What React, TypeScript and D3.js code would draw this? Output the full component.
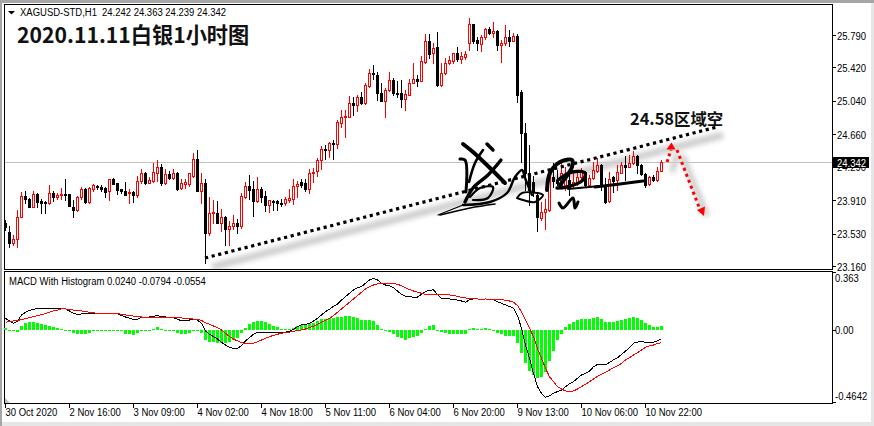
import * as d3 from 'd3';
import React from 'react';

const opens = [
  23.654, 23.547, 23.426, 23.464, 23.714, 23.957, 23.919, 23.836, 23.980, 23.897, 23.889, 23.874, 23.988, 23.950, 23.965, 23.980,
  23.980, 23.836, 23.798, 23.942, 24.041, 23.889, 24.033, 24.071, 24.064, 24.048, 24.011, 24.155, 24.102, 24.033, 24.018, 23.988,
  24.003, 23.973, 24.132, 24.223, 24.109, 24.132, 24.215, 24.284, 24.102, 24.208, 24.162, 24.223, 24.048, 24.094, 24.094, 24.185,
  24.375, 24.018, 24.102, 23.540, 23.760, 23.768, 23.646, 23.722, 23.585, 23.616, 23.646, 23.616, 23.942, 24.071, 24.033, 23.904,
  24.041, 23.957, 23.859, 23.904, 23.900, 23.882, 23.882, 23.912, 23.927, 24.071, 24.117, 24.102, 24.041, 24.215, 24.238, 24.367,
  24.496, 24.481, 24.565, 24.549, 24.792, 24.853, 24.861, 25.012, 24.997, 25.088, 25.020, 25.210, 25.362, 25.331, 25.134, 25.043,
  25.164, 25.278, 25.134, 25.126, 25.066, 25.111, 25.248, 25.286, 25.271, 25.483, 25.718, 25.582, 25.650, 25.217, 25.354, 25.468,
  25.498, 25.582, 25.521, 25.544, 25.703, 25.916, 25.733, 25.688, 25.772, 25.855, 25.817, 25.832, 25.680, 25.696, 25.764, 25.726,
  25.779, 25.141, 24.671, 24.215, 24.117, 23.973, 23.707, 23.771, 23.798, 24.170, 24.140, 24.063, 24.063, 24.139, 24.082, 24.101,
  24.170, 24.234, 24.082, 24.158, 24.246, 24.310, 24.071, 23.900, 24.170, 24.139, 24.223, 24.310, 24.291, 24.329, 24.413, 24.310,
  24.208, 24.094, 24.170, 24.139, 24.242,
];
const highs = [
  23.684, 23.616, 23.513, 23.798, 24.003, 24.011, 23.931, 24.011, 23.990, 23.919, 23.895, 24.079, 24.018, 23.995, 24.048, 24.147,
  23.985, 23.912, 23.957, 24.064, 24.048, 24.064, 24.094, 24.079, 24.079, 24.056, 24.150, 24.162, 24.105, 24.041, 24.117, 24.041,
  24.011, 24.185, 24.269, 24.231, 24.177, 24.329, 24.367, 24.322, 24.261, 24.238, 24.261, 24.231, 24.147, 24.155, 24.223, 24.451,
  24.481, 24.215, 24.147, 23.950, 23.912, 23.904, 23.813, 23.730, 23.669, 23.745, 23.692, 23.988, 24.117, 24.200, 24.125, 24.170,
  24.056, 24.011, 23.915, 23.912, 23.912, 23.927, 23.942, 24.041, 24.155, 24.125, 24.155, 24.147, 24.269, 24.276, 24.390, 24.527,
  24.534, 24.572, 24.595, 24.823, 24.937, 24.937, 25.096, 25.088, 25.111, 25.141, 25.240, 25.400, 25.445, 25.369, 25.240, 25.187,
  25.369, 25.301, 25.263, 25.278, 25.164, 25.286, 25.468, 25.331, 25.551, 25.802, 25.802, 25.696, 25.825, 25.468, 25.529, 25.551,
  25.589, 25.650, 25.597, 25.605, 25.984, 25.920, 25.772, 25.794, 25.870, 25.878, 25.938, 25.847, 25.733, 25.900, 25.847, 25.810,
  25.802, 25.164, 24.785, 24.538, 24.180, 24.000, 23.889, 23.927, 24.185, 24.329, 24.253, 24.329, 24.290, 24.215, 24.215, 24.215,
  24.272, 24.246, 24.196, 24.348, 24.394, 24.322, 24.158, 24.234, 24.185, 24.310, 24.348, 24.413, 24.424, 24.470, 24.424, 24.322,
  24.215, 24.185, 24.196, 24.291, 24.363,
];
const lows = [
  23.570, 23.373, 23.399, 23.373, 23.714, 23.874, 23.828, 23.828, 23.828, 23.760, 23.760, 23.866, 23.904, 23.919, 23.927, 23.912,
  23.840, 23.722, 23.790, 23.927, 23.882, 23.882, 24.018, 24.033, 24.018, 23.950, 23.912, 24.090, 23.980, 23.988, 23.965, 23.882,
  23.889, 23.950, 24.102, 24.094, 24.102, 24.117, 24.132, 24.079, 24.094, 24.147, 24.155, 24.026, 24.033, 24.048, 24.071, 24.177,
  24.015, 23.882, 23.198, 23.510, 23.646, 23.646, 23.555, 23.396, 23.403, 23.578, 23.540, 23.593, 23.935, 23.919, 23.730, 23.889,
  23.889, 23.790, 23.775, 23.798, 23.798, 23.844, 23.859, 23.889, 23.866, 23.950, 24.056, 24.018, 23.995, 24.117, 24.185, 24.269,
  24.382, 24.405, 24.382, 24.504, 24.739, 24.633, 24.855, 24.876, 24.929, 25.000, 25.005, 25.202, 25.293, 25.050, 25.035, 24.861,
  25.157, 25.111, 25.081, 24.975, 24.937, 25.104, 25.240, 25.210, 25.263, 25.468, 25.529, 25.468, 25.210, 25.210, 25.346, 25.460,
  25.475, 25.498, 25.475, 25.521, 25.620, 25.703, 25.620, 25.612, 25.741, 25.802, 25.764, 25.620, 25.483, 25.673, 25.665, 25.718,
  25.028, 24.344, 24.026, 23.855, 23.960, 23.555, 23.684, 23.578, 23.790, 24.063, 24.082, 24.044, 24.030, 23.968, 24.063, 24.082,
  24.139, 24.063, 24.063, 24.147, 24.234, 24.025, 23.881, 23.893, 24.006, 24.025, 24.215, 24.139, 24.283, 24.321, 24.215, 24.192,
  24.063, 24.086, 24.132, 24.124, 24.239,
];
const closes = [
  23.600, 23.426, 23.464, 23.714, 23.957, 23.919, 23.836, 23.980, 23.889, 23.882, 23.874, 23.988, 23.950, 23.965, 23.980, 23.965,
  23.844, 23.798, 23.942, 24.033, 23.889, 24.048, 24.079, 24.056, 24.041, 24.003, 24.147, 24.094, 24.026, 24.011, 23.973, 24.003,
  23.973, 24.132, 24.215, 24.102, 24.140, 24.231, 24.284, 24.102, 24.208, 24.162, 24.215, 24.041, 24.102, 24.117, 24.215, 24.375,
  24.018, 24.102, 23.540, 23.760, 23.775, 23.654, 23.714, 23.578, 23.616, 23.646, 23.616, 23.957, 24.071, 24.026, 23.904, 24.033,
  23.950, 23.851, 23.912, 23.897, 23.874, 23.874, 23.919, 23.934, 24.071, 24.094, 24.086, 24.033, 24.215, 24.231, 24.367, 24.489,
  24.489, 24.557, 24.549, 24.800, 24.853, 24.868, 25.012, 24.990, 25.088, 25.012, 25.217, 25.354, 25.346, 25.134, 25.043, 25.164,
  25.278, 25.126, 25.119, 25.066, 25.119, 25.240, 25.286, 25.271, 25.491, 25.718, 25.574, 25.639, 25.217, 25.354, 25.468, 25.506,
  25.582, 25.521, 25.551, 25.570, 25.916, 25.726, 25.696, 25.772, 25.855, 25.817, 25.832, 25.673, 25.696, 25.764, 25.726, 25.779,
  25.111, 24.671, 24.215, 24.026, 24.003, 23.722, 23.775, 23.806, 24.170, 24.132, 24.101, 24.215, 24.196, 24.063, 24.120, 24.170,
  24.234, 24.082, 24.158, 24.253, 24.310, 24.082, 23.893, 24.147, 24.132, 24.227, 24.310, 24.291, 24.337, 24.413, 24.310, 24.208,
  24.082, 24.170, 24.139, 24.238, 24.342,
];

const histValues = [
  0.0105, 0, -0.0063, -0.0105, 0.0274, 0.0421, 0.0484, 0.0484, 0.0442, 0.0358, 0.0316, 0.0253, 0.0211, 0.0126, 0.0063, 0.0021,
  -0.0042, -0.0211, -0.0253, -0.0232, -0.0232, -0.0189, -0.0042, 0, 0, -0.0021, 0.0021, 0, -0.0042, -0.0084, -0.0253, -0.0274,
  -0.0316, -0.0189, -0.0021, 0, 0, 0.0042, 0.0189, 0.0063, 0, -0.0021, -0.0042, -0.0168, -0.0253, -0.0253, -0.0189, -0.0042,
  -0.0042, -0.0168, -0.0653, -0.0758, -0.0779, -0.08, -0.08, -0.0821, -0.0779, -0.0653, -0.0484, -0.0168, 0.0147, 0.0358, 0.0484, 0.0568,
  0.0568, 0.0484, 0.0358, 0.0253, 0.0189, 0.0084, 0.0063, 0.0063, 0.0105, 0.0274, 0.0316, 0.0358, 0.0442, 0.0463, 0.0568, 0.0695,
  0.0695, 0.0737, 0.0779, 0.08, 0.0842, 0.0863, 0.0884, 0.0842, 0.0779, 0.0653, 0.0632, 0.0632, 0.0589, 0.0316, 0.0042, -0.0063,
  -0.0147, -0.0274, -0.0421, -0.0526, -0.0611, -0.0526, -0.0442, -0.0379, -0.0211, 0.0063, 0.0232, 0.0316, 0, -0.0105, -0.0211, -0.0274,
  -0.0253, -0.0253, -0.0274, -0.0274, 0.0042, 0.0105, 0.0042, 0.0042, 0.0105, 0.0042, 0, -0.0211, -0.0274, -0.0358, -0.0358, -0.0379,
  -0.08, -0.1432, -0.2063, -0.2568, -0.2842, -0.3011, -0.2947, -0.2632, -0.1958, -0.1326, -0.0632, -0.0274, 0.0189, 0.0379, 0.0526, 0.0632,
  0.0695, 0.0695, 0.0695, 0.0737, 0.08, 0.0695, 0.0484, 0.0526, 0.0526, 0.0568, 0.0632, 0.0695, 0.0779, 0.0821, 0.0779, 0.0632,
  0.0421, 0.0316, 0.0211, 0.0211, 0.024,
];
const macdValues = [
  0.074, 0.057, 0.042, 0.057, 0.095, 0.112, 0.124, 0.131, 0.135, 0.135, 0.135, 0.137, 0.137, 0.137, 0.137, 0.133,
  0.120, 0.105, 0.099, 0.101, 0.101, 0.103, 0.107, 0.105, 0.105, 0.103, 0.105, 0.105, 0.103, 0.091, 0.082, 0.074,
  0.067, 0.069, 0.080, 0.082, 0.082, 0.086, 0.091, 0.084, 0.082, 0.080, 0.078, 0.067, 0.059, 0.057, 0.063, 0.067,
  0.063, 0.042, -0.006, -0.027, -0.042, -0.057, -0.078, -0.095, -0.109, -0.116, -0.116, -0.099, -0.069, -0.048, -0.027, -0.015,
  -0.013, -0.013, -0.013, -0.013, -0.015, -0.015, -0.013, -0.008, 0.004, 0.021, 0.032, 0.036, 0.042, 0.057, 0.074, 0.095,
  0.116, 0.131, 0.149, 0.164, 0.189, 0.211, 0.232, 0.253, 0.267, 0.274, 0.295, 0.316, 0.326, 0.316, 0.295, 0.284,
  0.280, 0.267, 0.246, 0.225, 0.213, 0.211, 0.206, 0.208, 0.225, 0.242, 0.251, 0.253, 0.225, 0.200, 0.198, 0.196,
  0.194, 0.189, 0.183, 0.175, 0.192, 0.196, 0.196, 0.194, 0.196, 0.194, 0.192, 0.179, 0.168, 0.158, 0.149, 0.137,
  0.091, 0.011, -0.095, -0.179, -0.274, -0.358, -0.400, -0.425, -0.415, -0.400, -0.389, -0.379, -0.358, -0.339, -0.326, -0.305,
  -0.284, -0.274, -0.259, -0.232, -0.217, -0.217, -0.221, -0.204, -0.189, -0.175, -0.154, -0.133, -0.112, -0.084, -0.076, -0.072,
  -0.078, -0.078, -0.078, -0.069, -0.0554,
];
const signalValues = [
  0.048, 0.053, 0.057, 0.061, 0.065, 0.072, 0.078, 0.084, 0.091, 0.097, 0.103, 0.112, 0.120, 0.126, 0.133, 0.133,
  0.128, 0.126, 0.124, 0.120, 0.116, 0.112, 0.109, 0.105, 0.105, 0.103, 0.103, 0.103, 0.103, 0.099, 0.095, 0.091,
  0.088, 0.084, 0.082, 0.082, 0.082, 0.082, 0.082, 0.082, 0.082, 0.080, 0.080, 0.078, 0.076, 0.074, 0.072, 0.069,
  0.067, 0.061, 0.046, 0.036, 0.025, 0.015, 0, -0.021, -0.042, -0.057, -0.069, -0.080, -0.088, -0.088, -0.084, -0.074,
  -0.063, -0.053, -0.042, -0.034, -0.027, -0.021, -0.017, -0.013, -0.008, -0.004, 0, 0.006, 0.015, 0.023, 0.036, 0.048,
  0.061, 0.074, 0.091, 0.112, 0.133, 0.154, 0.175, 0.196, 0.217, 0.238, 0.259, 0.274, 0.284, 0.291, 0.295, 0.295,
  0.295, 0.293, 0.288, 0.280, 0.267, 0.255, 0.246, 0.238, 0.232, 0.225, 0.225, 0.225, 0.223, 0.221, 0.221, 0.221,
  0.219, 0.213, 0.206, 0.202, 0.200, 0.196, 0.196, 0.194, 0.196, 0.194, 0.194, 0.194, 0.192, 0.187, 0.183, 0.175,
  0.154, 0.116, 0.063, 0.011, -0.042, -0.116, -0.179, -0.242, -0.295, -0.326, -0.358, -0.373, -0.385, -0.389, -0.385, -0.373,
  -0.358, -0.343, -0.326, -0.309, -0.293, -0.280, -0.267, -0.253, -0.238, -0.227, -0.211, -0.189, -0.175, -0.158, -0.143, -0.126,
  -0.109, -0.101, -0.095, -0.086, -0.0794,
];

const priceTicks = [25.79, 25.42, 25.04, 24.66, 24.29, 23.91, 23.53, 23.16];
const timeTickIndex = [0, 16, 32, 48, 64, 80, 96, 112, 128, 144, 160];
const timeTickLabels = [
  '30 Oct 2020', '2 Nov 16:00', '3 Nov 09:00', '4 Nov 02:00', '4 Nov 18:00', '5 Nov 11:00',
  '6 Nov 04:00', '6 Nov 20:00', '9 Nov 13:00', '10 Nov 06:00', '10 Nov 22:00',
];
const lastPrice = 24.342;

// hand drawn signature on top of the candles, in screen pixels
const signature: { w: number; pts: [number, number][] }[] = [
  { w: 4, pts: [[463, 144], [473, 152], [490, 168], [505, 183]] },
  { w: 3.5, pts: [[487, 144], [493, 150]] },
  { w: 3, pts: [[460, 159], [465, 160], [466, 192]] },
  { w: 2.6, pts: [[483, 150], [475, 163], [469, 182]] },
  { w: 3.4, pts: [[501, 160], [488, 175], [473, 188], [465, 202]] },
  { w: 2.2, pts: [[470, 197], [480, 188], [493, 187], [488, 198], [473, 200]] },
  { w: 2.4, pts: [[463, 205], [490, 202], [507, 193], [515, 177], [522, 170], [525, 178], [532, 195]] },
  { w: 1.2, pts: [[438, 215], [463, 205]] },
  { w: 1.6, pts: [[440, 215], [470, 208], [495, 204]] },
  { w: 2, pts: [[517, 198], [522, 193], [537, 193], [543, 195], [535, 202], [523, 200], [517, 198]] },
  { w: 4, pts: [[547, 190], [550, 173], [560, 162], [572, 160], [572, 167], [560, 185]] },
  { w: 3.4, pts: [[558, 180], [572, 172], [585, 173], [583, 180], [567, 187], [557, 188]] },
  { w: 2, pts: [[568, 189], [600, 186]] },
  { w: 3, pts: [[595, 187], [620, 184], [643, 181]] },
  { w: 3, pts: [[559, 203], [563, 208], [573, 198], [575, 208], [578, 202]] },
];

const uiFont = '"Liberation Sans", Arial, sans-serif';
const cjkFont = '"Noto Sans CJK SC", sans-serif';

// the terminal font is tall and narrow, so squeeze 11px text sideways
const UiText = ({ x, y, fill = '#000', children }: { x: number; y: number; fill?: string; children: React.ReactNode }) => (
  <text transform={`translate(${x},${y}) scale(0.864,1)`} fontSize={11} fill={fill}>{children}</text>
);

export default function App() {
  const x = d3.scaleLinear().domain([0, 164]).range([5.5, 661.5]);
  const y = d3.scaleLinear().domain([23.16, 25.79]).range([266, 35]);
  const yM = d3.scaleLinear().domain([-0.4642, 0.363]).range([403.5, 272.5]);

  const macdLine = d3.line<number>().x((_, i) => x(i)).y(d => yM(d));
  const stroke = d3.line<[number, number]>().curve(d3.curveCatmullRom.alpha(0.5));

  const black = '#000000';
  const red = '#ff0000';

  return (
    <svg width={874} height={426} style={{ position: 'absolute', left: 0, top: 0 }} fontFamily={uiFont}>
      <defs>
        <filter id="soft" x="-10%" y="-50%" width="120%" height="200%">
          <feGaussianBlur stdDeviation="2.4" />
        </filter>
        <clipPath id="mainClip"><rect x={5} y={5} width={827} height={264} /></clipPath>
      </defs>

      <rect width={874} height={426} fill="#e6e6e6" />
      <rect x={0} y={0} width={874} height={3} fill="#a6a6a6" />
      <rect x={0} y={0} width={2} height={426} fill="#a6a6a6" />
      <rect x={2} y={3} width={869} height={419} fill="#ffffff" />

      <g clipPath="url(#mainClip)">
        <line x1={5} x2={832} y1={Math.round(y(lastPrice)) + 0.5} y2={Math.round(y(lastPrice)) + 0.5} stroke="#c0c0c0" />

        {/* shadows of the drawn lines */}
        <g filter="url(#soft)" stroke="#cdcdcd" fill="none">
          <path d="M212,267L723,135" strokeWidth={7} />
          <path d="M672,172L677,154" strokeWidth={6} />
          <path d="M682,155L707,216" strokeWidth={6} />
        </g>

        {opens.map((o, i) => {
          const c = closes[i];
          const up = c >= o;
          const col = up ? red : black;
          const cx = x(i);
          const top = Math.round(y(Math.max(o, c)));
          const bot = Math.round(y(Math.min(o, c)));
          return (
            <g key={i} shapeRendering="crispEdges">
              <line x1={cx} x2={cx} y1={Math.round(y(highs[i]))} y2={Math.round(y(lows[i])) + 1} stroke={col} />
              {up
                ? <rect x={cx - 1} y={top + 0.5} width={2} height={Math.max(bot - top, 1)} fill="#ffffff" stroke={col} />
                : <rect x={cx - 1.5} y={top} width={3} height={Math.max(bot - top + 1, 2)} fill={col} />}
            </g>
          );
        })}

        <line x1={205} y1={258} x2={717} y2={127} stroke="#000" strokeWidth={3.2} strokeDasharray="3.2 3.6" />
        <path d="M667,162L671,150" stroke={red} strokeWidth={3} strokeDasharray="3 3" fill="none" />
        <path d="M677,150L699,207" stroke={red} strokeWidth={3} strokeDasharray="3 3.4" fill="none" />
        <polygon points="671.5,142.5 666.5,149.5 675.5,149.5" fill={red} />
        <polygon points="704,216 697,210 705,206.5" fill={red} />

        {signature.map((s, i) => (
          <path key={i} d={stroke(s.pts) ?? ''} fill="none" stroke="#000" strokeWidth={s.w} strokeLinecap="round" strokeLinejoin="round" />
        ))}
      </g>

      {/* panel frames */}
      <g fill="none" stroke="#000" shapeRendering="crispEdges">
        <rect x={4.5} y={4.5} width={828} height={265} />
        <rect x={4.5} y={271.5} width={828} height={132} />
      </g>

      <polygon points="8,11 15,11 11.5,14.5" fill="#000" />
      <UiText x={20} y={16}>XAGUSD-STD,H1</UiText>
      <UiText x={102} y={16}>24.242 24.363 24.239 24.342</UiText>
      <text x={17} y={43} fontSize={21.2} fontWeight={700} fontFamily={cjkFont} fill="#111">2020.11.11白银1小时图</text>
      <text x={630} y={125} fontSize={16.4} fontWeight={700} fontFamily={cjkFont} fill="#111">24.58区域空</text>

      {/* price axis */}
      {priceTicks.map(t => (
        <g key={t}>
          <line x1={832} x2={836} y1={Math.round(y(t)) + 0.5} y2={Math.round(y(t)) + 0.5} stroke="#000" shapeRendering="crispEdges" />
          <UiText x={837} y={y(t) + 4.5}>{t.toFixed(3)}</UiText>
        </g>
      ))}
      <rect x={833} y={157} width={36} height={11} fill="#000" />
      <UiText x={837} y={166.5} fill="#fff">{lastPrice.toFixed(3)}</UiText>

      {/* MACD panel */}
      <UiText x={9} y={285}>MACD With Histogram 0.0240 -0.0794 -0.0554</UiText>
      <g shapeRendering="crispEdges">
        {histValues.map((v, i) => (
          <rect key={i} x={x(i) - 1.5} y={Math.min(yM(v), yM(0))} width={3} height={Math.max(Math.abs(yM(v) - yM(0)), 1)} fill="#00ff00" />
        ))}
      </g>
      <path d={macdLine(macdValues) ?? ''} fill="none" stroke="#000" strokeWidth={1} shapeRendering="crispEdges" />
      <path d={macdLine(signalValues) ?? ''} fill="none" stroke={red} strokeWidth={1} shapeRendering="crispEdges" />
      <polygon points="5,403 5,398 10,403" fill="#c0c0c0" />

      <line x1={832} x2={836} y1={272.5} y2={272.5} stroke="#000" shapeRendering="crispEdges" />
      <line x1={832} x2={836} y1={330.5} y2={330.5} stroke="#000" shapeRendering="crispEdges" />
      <line x1={832} x2={836} y1={402.5} y2={402.5} stroke="#000" shapeRendering="crispEdges" />
      <UiText x={835} y={282}>0.363</UiText>
      <UiText x={835} y={334}>0.00</UiText>
      <UiText x={835} y={400}>-0.4642</UiText>

      {/* time axis */}
      {timeTickIndex.map((ti, k) => (
        <g key={ti}>
          <line x1={x(ti)} x2={x(ti)} y1={404} y2={408} stroke="#000" shapeRendering="crispEdges" />
          <UiText x={x(ti)} y={416}>{timeTickLabels[k]}</UiText>
        </g>
      ))}
    </svg>
  );
}
